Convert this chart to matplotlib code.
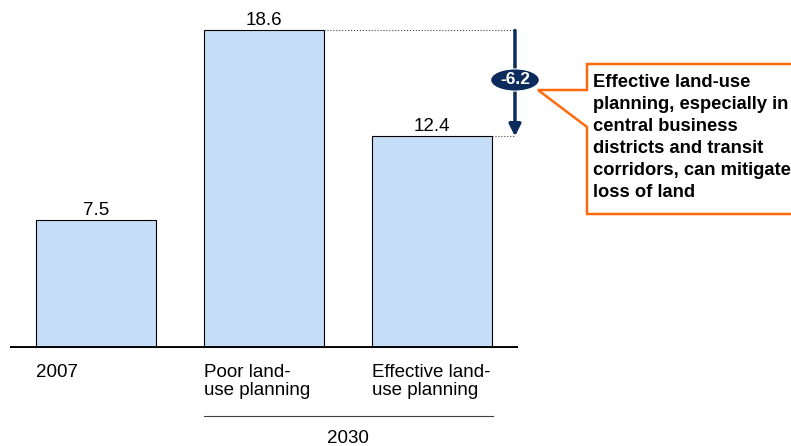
import matplotlib
matplotlib.use('Agg')
import matplotlib.pyplot as plt
import matplotlib.transforms as mtransforms
from matplotlib.patches import Ellipse, Polygon

plt.rcParams['font.family'] = ['Liberation Sans', 'DejaVu Sans']

# dados
categorias = ['2007', 'Poor land-\nuse planning', 'Effective land-\nuse planning']
valores = [7.5, 18.6, 12.4]
rotulos = ['7.5', '18.6', '12.4']
ano_grupo = '2030'
delta = valores[2] - valores[1]
texto_callout = ('Effective land-use\nplanning, especially in\ncentral business\n'
                 'districts and transit\ncorridors, can mitigate\nloss of land')

W, H = 791, 446
cor_barra = '#C6DDF7'
azul = '#0D2A5C'
laranja = '#FF6A0D'
fs = 13.5

fig = plt.figure(figsize=(W / 100, H / 100), dpi=100)
# eixo: x de 10 a 518 px, base em y=348 px
ax = fig.add_axes([10 / W, 98 / H, 508 / W, 341.4 / H])
ax.set_xlim(-0.512, 2.512)
ax.set_ylim(0, 20)
ax.axis('off')

x = range(len(valores))
larg = 0.714
ax.bar(x, valores, width=larg, color=cor_barra, edgecolor='black', linewidth=0.8, zorder=2)
ax.axhline(0, color='black', linewidth=2.8, zorder=3)

for i, v in enumerate(valores):
    ax.text(i, v + 0.07, rotulos[i], ha='center', va='bottom', fontsize=fs)

# rótulos das categorias
for i, c in enumerate(categorias):
    ax.text(i - larg / 2, -0.95, c, ha='left', va='top', fontsize=fs, linespacing=1.05)

# pixel transform (origem no canto superior esquerdo)
px = mtransforms.Affine2D().scale(1 / W, -1 / H).translate(0, 1) + fig.transFigure
fig.add_artist(plt.Line2D([204, 493], [416, 416], transform=px, color='#404040', linewidth=0.8))
fig.text(348 / W, 1 - 443 / H, ano_grupo, ha='center', va='baseline', fontsize=fs)

# linhas pontilhadas e seta
xa = 2.494
ax.plot([1 + larg / 2, xa], [valores[1], valores[1]], color='#444444', linestyle=':', linewidth=0.8, clip_on=False)
ax.plot([2 + larg / 2, xa], [valores[2], valores[2]], color='#444444', linestyle=':', linewidth=0.8, clip_on=False)
ax.annotate('', xy=(xa, valores[2]), xytext=(xa, valores[1]),
            arrowprops=dict(arrowstyle='-|>,head_width=0.35,head_length=0.7', color=azul, lw=2.5,
                            shrinkA=0, shrinkB=0),
            annotation_clip=False)
yc = (348 - 80) / 17.07
ax.add_patch(Ellipse((xa, yc), 0.29, 1.3, facecolor=azul, edgecolor='white', linewidth=0.8,
                     zorder=5, clip_on=False))
ax.text(xa, yc, f'{delta:.1f}', ha='center', va='center', color='white', fontsize=12.5,
        fontweight='bold', zorder=6, clip_on=False)

# caixa de chamada
poly = Polygon([(587, 64), (800, 64), (800, 214), (587, 214), (587, 127), (538, 90), (587, 90)],
               closed=True, facecolor='white', edgecolor=laranja, linewidth=1.8, transform=px)
fig.add_artist(poly)
fig.text(593 / W, 1 - 74 / H, texto_callout, ha='left', va='top', fontsize=13.2,
         fontweight='bold', linespacing=1.38)

fig.savefig('out.png', dpi=100)
